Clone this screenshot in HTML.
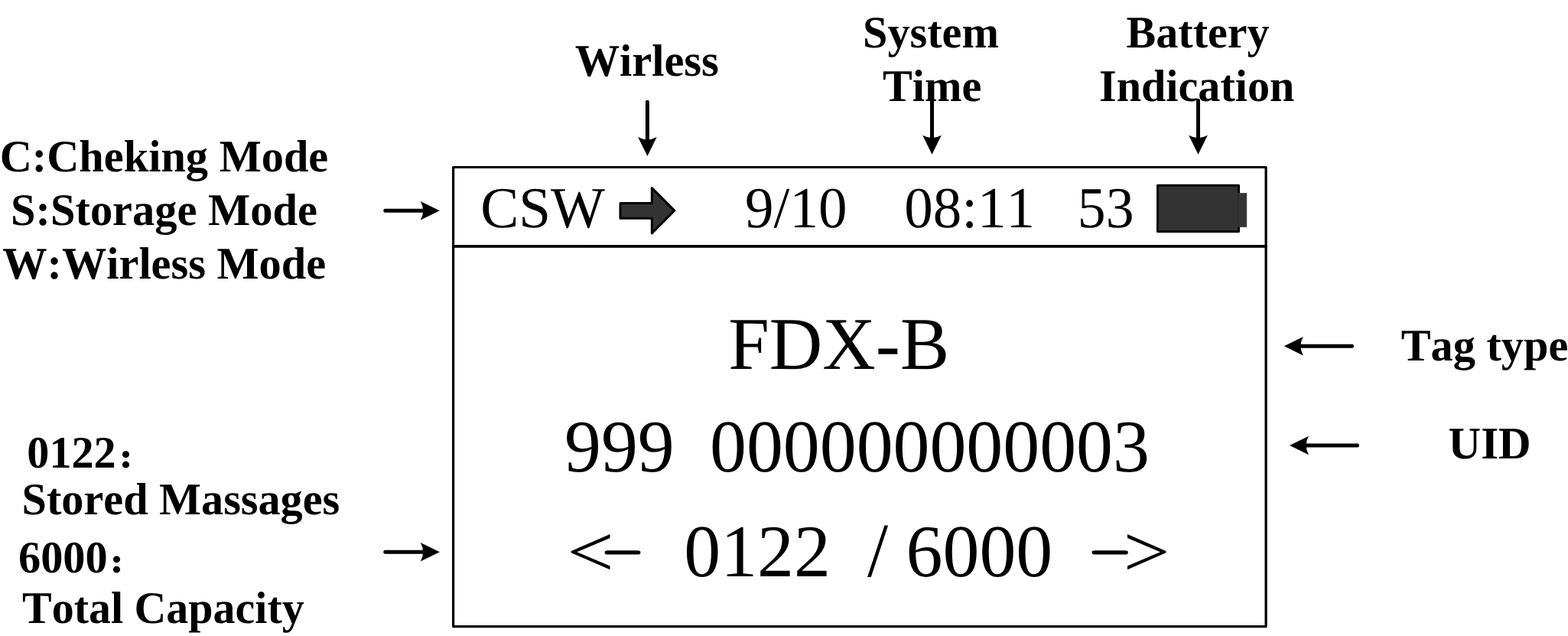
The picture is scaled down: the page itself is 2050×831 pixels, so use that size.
<!DOCTYPE html>
<html lang="en">
<head>
<meta charset="utf-8">
<title>Reader display layout</title>
<style>
html,body{margin:0;padding:0;background:#fff;}
body{width:2050px;height:831px;overflow:hidden;}
svg{display:block;}
text{font-family:"Liberation Serif", "Noto Serif CJK SC", serif;fill:#000;white-space:pre;font-kerning:none;font-variant-ligatures:none;text-rendering:geometricPrecision;}
.b{font-weight:bold;}
.r{stroke:#000;stroke-linejoin:round;stroke-linecap:round;}
</style>
</head>
<body>
<svg width="2050" height="831" viewBox="0 0 2050 831">
<rect x="0" y="0" width="2050" height="831" fill="#fff"/>
<defs><mask id="m" maskUnits="userSpaceOnUse" x="0" y="0" width="2050" height="831"><rect x="0" y="0" width="2050" height="831" fill="#fff"/></mask></defs>
<g id="box" fill="none" stroke="#000" stroke-width="3.2" stroke-linejoin="round" stroke-linecap="round">
<rect x="592.6" y="218.5" width="1062.5" height="600.1"/>
<line x1="592.6" y1="321.9" x2="1655.1" y2="321.9" stroke-width="3.6"/>
</g>
<g id="a_left1"><line x1="503.8" y1="275.3" x2="554.2" y2="275.3" stroke="#000" stroke-width="5.0" stroke-linecap="round"/><path d="M574.8 275.3L549.8 287.6Q556.6 275.3 549.8 263Z" fill="#000"/></g>
<g id="a_left2"><line x1="503.8" y1="721.3" x2="554.2" y2="721.3" stroke="#000" stroke-width="5.0" stroke-linecap="round"/><path d="M574.8 721.3L549.8 733.6Q556.6 721.3 549.8 709Z" fill="#000"/></g>
<g id="a_wir"><line x1="846.4" y1="133.3" x2="846.4" y2="183.4" stroke="#000" stroke-width="5.0" stroke-linecap="round"/><path d="M846.4 204L834.1 179Q846.4 185.8 858.7 179Z" fill="#000"/></g>
<g id="a_sys"><line x1="1218.5" y1="128" x2="1218.5" y2="181.2" stroke="#000" stroke-width="5.0" stroke-linecap="round"/><path d="M1218.5 201.8L1206.2 176.8Q1218.5 183.6 1230.8 176.8Z" fill="#000"/></g>
<g id="a_bat"><line x1="1566.5" y1="131.3" x2="1566.5" y2="181.2" stroke="#000" stroke-width="5.0" stroke-linecap="round"/><path d="M1566.5 201.8L1554.2 176.8Q1566.5 183.6 1578.8 176.8Z" fill="#000"/></g>
<g id="a_tag"><line x1="1767.5" y1="452.3" x2="1699.4" y2="452.3" stroke="#000" stroke-width="5.0" stroke-linecap="round"/><path d="M1678.8 452.3L1703.8 440Q1697 452.3 1703.8 464.6Z" fill="#000"/></g>
<g id="a_uid"><line x1="1774.5" y1="582" x2="1706.6" y2="582" stroke="#000" stroke-width="5.0" stroke-linecap="round"/><path d="M1686 582L1711 569.7Q1704.2 582 1711 594.3Z" fill="#000"/></g>
<path id="blockarrow" d="M811 265.5H852.3V245.5L881.7 275.1L852.3 304.7V285.3H811Z" fill="#333" stroke="#000" stroke-width="3" stroke-linejoin="round"/>
<g id="battery"><rect x="1513.5" y="242.3" width="106" height="60.2" fill="#333" stroke="#000" stroke-width="3" stroke-linejoin="round"/><rect x="1618.7" y="252.4" width="11.2" height="44.2" fill="#333" stroke="#3b3b3b" stroke-width="0.6"/></g>
<text id="t_wirless" transform="matrix(1.0068 0 0 1.0180 751.64 98.90)" font-size="58.0" class="b">Wirless</text>
<text id="t_system" transform="matrix(1.0043 0 0 1.0180 1127.99 61.90)" font-size="58.0" class="b">System</text>
<text id="t_time" transform="matrix(1.0028 0 0 1.0180 1154.00 131.80)" font-size="58.0" class="b">Time</text>
<text id="t_battery" transform="matrix(1.0008 0 0 1.0180 1472.60 61.70)" font-size="58.0" class="b">Battery</text>
<text id="t_indic" transform="matrix(1.0034 0 0 1.0180 1436.99 131.80)" font-size="58.0" class="b">Indication</text>
<text id="t_c" transform="matrix(1.0063 0 0 1.0180 -0.37 223.90)" font-size="58.0" class="b">C:Cheking Mode</text>
<text id="t_s" transform="matrix(1.0075 0 0 1.0180 13.98 293.80)" font-size="58.0" class="b">S:Storage Mode</text>
<text id="t_w" transform="matrix(1.0056 0 0 1.0180 3.25 364.20)" font-size="58.0" class="b">W:Wirless Mode</text>
<text id="t_0122" transform="matrix(1.0031 0 0 1.0180 35.34 610.60)" font-size="58.0" class="b">0122</text>
<g mask="url(#m)"><text id="t_col1" transform="matrix(1.0222 0 0 0.9978 155.04 611.20)" font-size="34.7" class="b r" stroke-width="2.8">：</text></g>
<text id="t_stored" transform="matrix(1.0039 0 0 1.0180 28.59 672.00)" font-size="58.0" class="b">Stored Massages</text>
<text id="t_6000" transform="matrix(1.0058 0 0 1.0180 23.99 747.80)" font-size="58.0" class="b">6000</text>
<g mask="url(#m)"><text id="t_col2" transform="matrix(1.0222 0 0 0.9843 143.04 748.31)" font-size="34.7" class="b r" stroke-width="2.8">：</text></g>
<text id="t_total" transform="matrix(0.9993 0 0 1.0180 29.00 814.00)" font-size="58.0" class="b">Total Capacity</text>
<text id="t_tag" transform="matrix(1.0051 0 0 1.0180 1831.69 470.60)" font-size="58.0" class="b">Tag type</text>
<text id="t_uid" transform="matrix(1.0167 0 0 1.0180 1893.57 599.40)" font-size="58.0" class="b">UID</text>
<text id="t_csw" transform="matrix(1.0006 0 0 1.0150 628.20 296.60)" font-size="75.0">CSW</text>
<text id="t_910" transform="matrix(1.0000 0 0 1.0150 974.10 296.60)" font-size="75.0">9/10</text>
<text id="t_0811" transform="matrix(1.0000 0 0 1.0150 1182.25 296.60)" font-size="75.0">08:11</text>
<text id="t_53" transform="matrix(0.9815 0 0 1.0150 1408.83 296.60)" font-size="75.0">53</text>
<text id="t_fdx" transform="matrix(1.0050 0 0 1.0150 952.24 482.20)" font-size="95.8">FDX-B</text>
<text id="t_999" transform="matrix(1.0000 0 0 1.0150 738.00 615.60)" font-size="95.8">999</text>
<text id="t_000" transform="matrix(1.0000 0 0 1.0150 928.05 615.60)" font-size="95.8">000000000003</text>
<text id="t_lt" transform="matrix(1.1393 0 0 1.0000 741.19 752.55)" font-size="95.8">&lt;</text>
<g mask="url(#m)"><text id="t_ld" transform="matrix(1.8980 0 0 0.8833 794.92 730.07)" font-size="40" class="r" stroke-width="4">–</text></g>
<text id="t_0122b" transform="matrix(1.0000 0 0 1.0150 894.25 753.00)" font-size="95.8">0122</text>
<text id="t_sl" transform="matrix(1.0189 0 0 1.0521 1134.00 752.55)" font-size="95.8">/</text>
<text id="t_6000b" transform="matrix(1.0000 0 0 1.0150 1184.60 753.00)" font-size="95.8">6000</text>
<g mask="url(#m)"><text id="t_rd" transform="matrix(1.9184 0 0 0.8833 1432.07 729.57)" font-size="40" class="r" stroke-width="4">–</text></g>
<text id="t_gt" transform="matrix(1.1307 0 0 1.0000 1468.43 752.55)" font-size="95.8">&gt;</text>
</svg>
</body>
</html>
